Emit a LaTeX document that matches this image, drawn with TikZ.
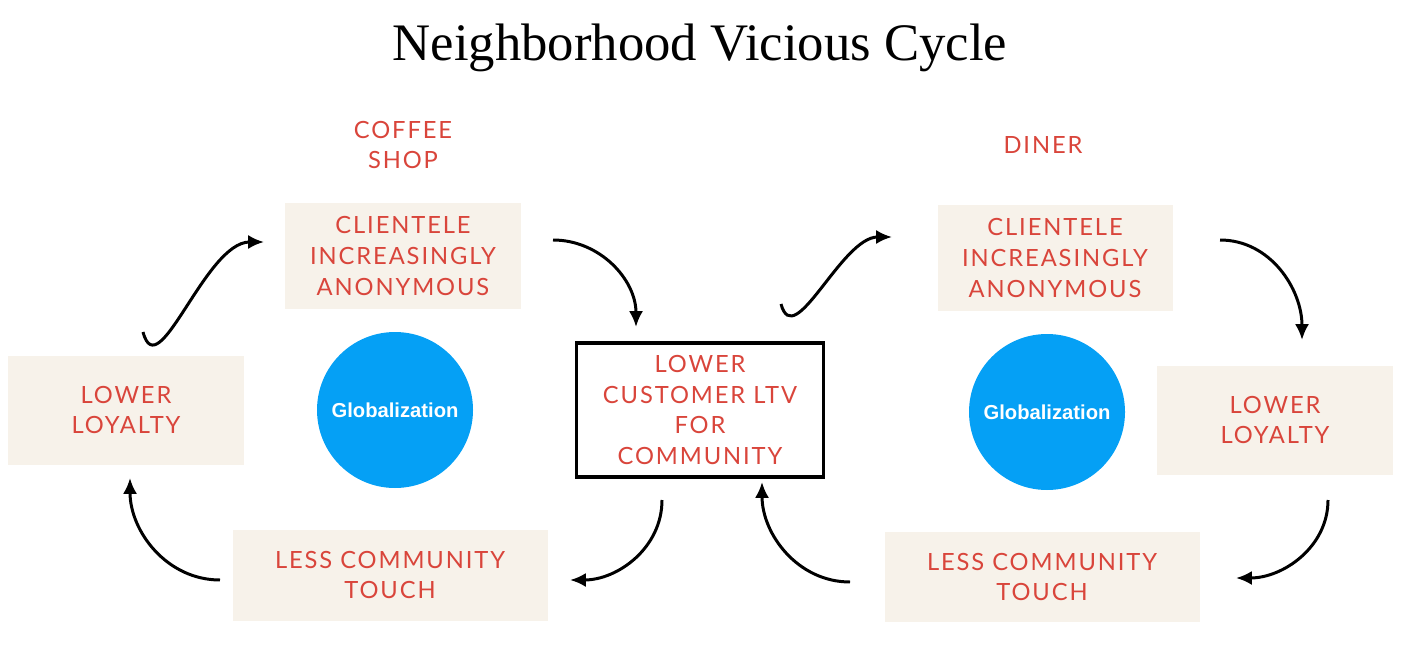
\documentclass[tikz,border=0pt]{standalone}
\usepackage{fontspec}
\setmainfont{Liberation Serif}
\newfontfamily\boxfont[LetterSpace=8]{Lato}
\newfontfamily\circfont{Liberation Sans}
\usetikzlibrary{arrows.meta}
\definecolor{boxbg}{HTML}{F7F2EA}
\definecolor{txtred}{HTML}{D9453B}
\definecolor{globe}{HTML}{05A0F5}
\begin{document}
\begin{tikzpicture}[x=0.02cm,y=-0.02cm,
  bx/.style={fill=boxbg,draw=none,text=txtred,font=\boxfont\fontsize{13.5}{17.5}\selectfont,align=center,inner sep=0pt},
  lbl/.style={text=txtred,font=\boxfont\fontsize{13.5}{17.5}\selectfont,align=center},
  gl/.style={circle,fill=globe,text=white,font=\circfont\bfseries\fontsize{11.5}{13}\selectfont,minimum size=156*0.02cm,inner sep=0pt},
  arr/.style={line width=1.7pt,-{Latex[length=9pt,width=8pt]}}]
\useasboundingbox (0,0) rectangle (1408,658);
\node[font=\fontsize{30}{34}\selectfont] (title) at (700,48) {Neighborhood Vicious Cycle};
\node[lbl] (cs) at (403,145) {COFFEE\\SHOP};
\node[lbl] (dn) at (1043,145) {DINER};
\node[bx,minimum width=236*0.02cm,minimum height=106*0.02cm] (lt) at (403,256) {CLIENTELE\\INCREASINGLY\\ANONYMOUS};
\node[bx,minimum width=236*0.02cm,minimum height=109*0.02cm] (ll) at (126,410) {LOWER\\LOYALTY};
\node[bx,minimum width=315*0.02cm,minimum height=91*0.02cm] (lb) at (390,575) {LESS COMMUNITY\\TOUCH};
\node[bx,fill=none,draw=black,line width=1.8pt,minimum width=247*0.02cm,minimum height=134*0.02cm] (c) at (700,410) {LOWER\\CUSTOMER LTV\\FOR\\COMMUNITY};
\node[bx,minimum width=235*0.02cm,minimum height=105*0.02cm] (rt) at (1055,258) {CLIENTELE\\INCREASINGLY\\ANONYMOUS};
\node[bx,minimum width=236*0.02cm,minimum height=109*0.02cm] (rl) at (1275,420) {LOWER\\LOYALTY};
\node[bx,minimum width=315*0.02cm,minimum height=90*0.02cm] (rb) at (1042,577) {LESS COMMUNITY\\TOUCH};
\node[gl] (g1) at (395,410) {Globalization};
\node[gl] (g2) at (1047,412) {Globalization};
\coordinate (a1s) at (143,332); \coordinate (a1e) at (264,242);
\coordinate (a2s) at (553,240); \coordinate (a2e) at (636,327);
\coordinate (a3s) at (662,500); \coordinate (a3e) at (570,580);
\coordinate (a4s) at (220,580); \coordinate (a4e) at (130,478);
\coordinate (b1s) at (781,304); \coordinate (b1e) at (892,237);
\coordinate (b2s) at (1220,240); \coordinate (b2e) at (1302,340);
\coordinate (b3s) at (1328,500); \coordinate (b3e) at (1236,578);
\coordinate (b4s) at (850,582); \coordinate (b4e) at (762,482);
\draw[arr] (a1s) to[out=-75,in=180] (a1e);
\draw[arr] (a2s) to[out=0,in=90] (a2e);
\draw[arr] (a3s) to[out=-90,in=0] (a3e);
\draw[arr] (a4s) to[out=180,in=-90] (a4e);
\draw[arr] (b1s) to[out=-75,in=180] (b1e);
\draw[arr] (b2s) to[out=0,in=90] (b2e);
\draw[arr] (b3s) to[out=-90,in=0] (b3e);
\draw[arr] (b4s) to[out=180,in=-90] (b4e);
\end{tikzpicture}
\end{document}
